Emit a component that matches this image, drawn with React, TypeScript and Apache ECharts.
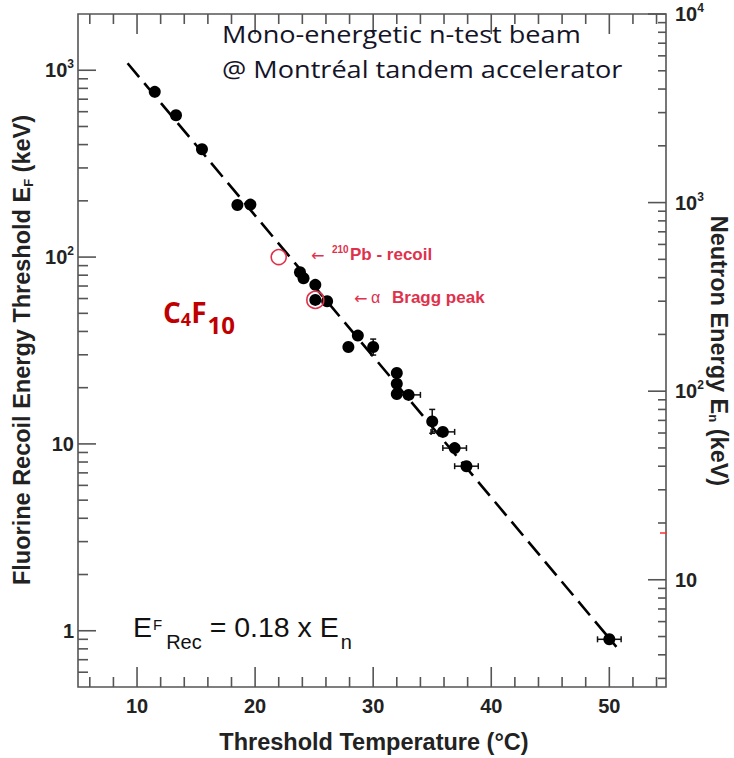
import React, { useEffect, useRef } from 'react';
import * as echarts from 'echarts';

// ---- data ----
const temps = [11.5, 13.3, 15.5, 18.5, 19.6, 23.8, 24.1, 25.1, 25.1, 26.1, 27.9, 28.7, 30.0, 32.0, 32.0, 32.0, 33.0, 35.0, 35.9, 36.9, 37.9, 50.0];
const energies = [766, 574, 378, 190, 191, 83, 77, 71, 59, 58, 33, 38, 33, 24, 21, 18.5, 18.3, 13.2, 11.6, 9.5, 7.6, 0.9];
const tempErr = [0, 0, 0, 0, 0, 0, 0, 0, 0, 0, 0, 0, 0, 0, 0, 0, 1.0, 0, 1.0, 1.0, 1.0, 1.0];
const energyErrDown = [0, 0, 0, 0, 0, 0, 0, 0, 0, 0, 0, 0, 3.1, 0, 0, 0, 0, 1.8, 0, 0, 0, 0];
const energyErrUp = [0, 0, 0, 0, 0, 0, 0, 0, 0, 0, 0, 0, 3.4, 0, 0, 0, 0, 2.1, 0, 0, 0, 0];

const fitTemps = [9.2, 50.6];
const fitEnergies = [1090, 0.82];

const pbRecoil = [[22.0, 100]];
const braggPeak = [[25.1, 59]];

const xMajorTicks = [10, 20, 30, 40, 50];
const xMinorTicks = [6, 8, 12, 14, 16, 18, 22, 24, 26, 28, 32, 34, 36, 38, 42, 44, 46, 48, 52, 54];
const leftMajorTicks = [1, 10, 100, 1000];
const rightMajorTicks = [10, 100, 1000, 10000];
const minorMantissas = [2, 3, 4, 5, 6, 7, 8, 9];
const decades = [0.1, 1, 10, 100, 1000];

const X_MIN = 5;
const X_MAX = 54.8;
const LEFT_MIN = 0.5;
const LEFT_MAX = 2000;
const RIGHT_MIN = 2.7;
const RIGHT_MAX = 10000;

const AXIS_COLOR = '#555';
const RED = '#e0314c';
const SANS = 'Liberation Sans, Arial, sans-serif';
const CAL = 'Open Sans, Noto Sans, sans-serif';

function minorsIn(lo: number, hi: number) {
  const out: number[] = [];
  decades.forEach((d) => minorMantissas.forEach((m) => {
    const v = Number((m * d).toPrecision(6));
    if (v > lo * 1.0001 && v < hi * 0.9999) out.push(v);
  }));
  return out;
}
const leftMinorTicks = minorsIn(LEFT_MIN, LEFT_MAX);
const rightMinorTicks = minorsIn(RIGHT_MIN, RIGHT_MAX);

const lineStyle = { stroke: AXIS_COLOR, lineWidth: 1.6 };

function xTickSeries(ticks: number[], len: number) {
  return {
    type: 'custom', silent: true, z: 5, xAxisIndex: 0, yAxisIndex: 0,
    data: ticks.map((v) => [v, 1]),
    renderItem: (params: any, api: any) => {
      const cs = params.coordSys;
      const px = api.coord([api.value(0), 1])[0];
      const bottom = cs.y + cs.height;
      return {
        type: 'group',
        children: [
          { type: 'line', shape: { x1: px, y1: bottom, x2: px, y2: bottom - len }, style: lineStyle },
          { type: 'line', shape: { x1: px, y1: cs.y, x2: px, y2: cs.y + len }, style: lineStyle },
        ],
      };
    },
  };
}

function yTickSeries(ticks: number[], len: number, right: boolean) {
  return {
    type: 'custom', silent: true, z: 5, xAxisIndex: 0, yAxisIndex: right ? 1 : 0,
    data: ticks.map((v) => [X_MIN + 1, v]),
    renderItem: (params: any, api: any) => {
      const cs = params.coordSys;
      const py = api.coord([X_MIN + 1, api.value(1)])[1];
      const x0 = right ? cs.x + cs.width : cs.x;
      const x1 = right ? x0 - len : x0 + len;
      return { type: 'line', shape: { x1: x0, y1: py, x2: x1, y2: py }, style: lineStyle };
    },
  };
}

function isPow10(v: number) {
  const e = Math.log10(v);
  return Math.abs(e - Math.round(e)) < 1e-6;
}
function powLabel(v: number) {
  if (!isPow10(v)) return '';
  const e = Math.round(Math.log10(v));
  if (e === 0) return '{b|1}';
  if (e === 1) return '{b|10}';
  return `{b|10}{s|${e}}`;
}
const labelRich = {
  b: { fontSize: 20, fontWeight: 'bold', color: '#222', fontFamily: SANS },
  s: { fontSize: 12, fontWeight: 'bold', color: '#222', fontFamily: SANS, padding: [0, 0, 12, 0] },
};

function txt(x: number, y: number, text: string, fontSize: number, extra: any = {}) {
  return {
    type: 'text', x, y, silent: true, z: 20,
    style: { text, fontSize, fontFamily: SANS, fill: '#111', align: 'left', verticalAlign: 'middle', ...extra },
  };
}

export default function App() {
  const ref = useRef<HTMLDivElement>(null);
  useEffect(() => {
    if (!ref.current) return;
    const chart = echarts.init(ref.current, null, { renderer: 'svg' });
    const pts = temps.map((t, i) => [t, energies[i]]);
    const errData = temps.map((t, i) => [t, energies[i], tempErr[i], energyErrDown[i], energyErrUp[i]]);
    const titleRich = {
      m: { fontSize: 23.5, fontWeight: 'bold', fontFamily: SANS, fill: '#222' },
      s: { fontSize: 13, fontWeight: 'bold', fontFamily: SANS, fill: '#222', padding: [12, 0, 0, 0] },
    };
    const option: any = {
      animation: false,
      backgroundColor: '#fff',
      grid: {
        left: 78, right: 68, top: 14, bottom: 71,
        show: true, borderColor: AXIS_COLOR, borderWidth: 1.6, backgroundColor: 'transparent',
        containLabel: false, outerBoundsMode: 'none',
      },
      xAxis: {
        type: 'value', min: X_MIN, max: X_MAX, interval: 5,
        axisLine: { show: false }, axisTick: { show: false }, splitLine: { show: false },
        axisLabel: {
          margin: 9, fontSize: 20, fontWeight: 'bold', color: '#222', fontFamily: SANS,
          formatter: (v: number) => (Math.abs(v % 10) < 1e-6 && v >= 10 && v <= 50 ? String(v) : ''),
        },
      },
      yAxis: [
        {
          type: 'log', logBase: 10, min: LEFT_MIN, max: LEFT_MAX, position: 'left',
          axisLine: { show: false }, axisTick: { show: false }, splitLine: { show: false }, minorTick: { show: false },
          axisLabel: { margin: 4, formatter: powLabel, rich: labelRich },
        },
        {
          type: 'log', logBase: 10, min: RIGHT_MIN, max: RIGHT_MAX, position: 'right',
          axisLine: { show: false }, axisTick: { show: false }, splitLine: { show: false }, minorTick: { show: false },
          axisLabel: { margin: 9, formatter: powLabel, rich: labelRich },
        },
      ],
      series: [
        xTickSeries(xMajorTicks, 20),
        xTickSeries(xMinorTicks, 10),
        yTickSeries(leftMajorTicks, 18, false),
        yTickSeries(leftMinorTicks, 10, false),
        yTickSeries(rightMajorTicks, 18, true),
        yTickSeries(rightMinorTicks, 8, true),
        {
          type: 'line', data: fitTemps.map((t, i) => [t, fitEnergies[i]]), showSymbol: false, silent: true, z: 3,
          lineStyle: { color: '#000', width: 2.6, type: [18, 8] },
        },
        {
          type: 'custom', silent: true, z: 4, data: errData,
          renderItem: (params: any, api: any) => {
            const t = api.value(0), e = api.value(1), dx = api.value(2), dn = api.value(3), up = api.value(4);
            const st = { stroke: '#111', lineWidth: 1.5 };
            const children: any[] = [];
            const cap = 3;
            if (dx > 0) {
              const a = api.coord([t - dx, e]);
              const b = api.coord([t + dx, e]);
              children.push({ type: 'line', shape: { x1: a[0], y1: a[1], x2: b[0], y2: b[1] }, style: st });
              children.push({ type: 'line', shape: { x1: a[0], y1: a[1] - cap, x2: a[0], y2: a[1] + cap }, style: st });
              children.push({ type: 'line', shape: { x1: b[0], y1: b[1] - cap, x2: b[0], y2: b[1] + cap }, style: st });
            }
            if (dn > 0 || up > 0) {
              const a = api.coord([t, e - dn]);
              const b = api.coord([t, e + up]);
              children.push({ type: 'line', shape: { x1: a[0], y1: a[1], x2: b[0], y2: b[1] }, style: st });
              children.push({ type: 'line', shape: { x1: a[0] - cap, y1: a[1], x2: a[0] + cap, y2: a[1] }, style: st });
              children.push({ type: 'line', shape: { x1: b[0] - cap, y1: b[1], x2: b[0] + cap, y2: b[1] }, style: st });
            }
            return { type: 'group', children };
          },
        },
        {
          type: 'scatter', data: pts, symbol: 'circle', symbolSize: 12, z: 6, silent: true,
          itemStyle: { color: '#000', opacity: 1 },
        },
        {
          type: 'scatter', data: pbRecoil, symbol: 'circle', symbolSize: 15, z: 7, silent: true,
          itemStyle: { color: 'rgba(0,0,0,0)', borderColor: RED, borderWidth: 1.6, opacity: 1 },
        },
        {
          type: 'scatter', data: braggPeak, symbol: 'circle', symbolSize: 17, z: 7, silent: true,
          itemStyle: { color: 'rgba(0,0,0,0)', borderColor: RED, borderWidth: 1.6, opacity: 1 },
        },
      ],
      graphic: [
        // axis titles
        txt(374, 742, 'Threshold Temperature (°C)', 23.5, { fontWeight: 'bold', align: 'center', fill: '#222' }),
        {
          type: 'text', x: 22, y: 350, rotation: Math.PI / 2, silent: true, z: 20,
          style: {
            text: '{m|Fluorine Recoil Energy Threshold E}{s|F}{m| (keV)}', align: 'center', verticalAlign: 'middle',
            rich: titleRich,
          },
        },
        {
          type: 'text', x: 719, y: 351, rotation: -Math.PI / 2, silent: true, z: 20,
          style: {
            text: '{m|Neutron Energy E}{s|n}{m| (keV)}', align: 'center', verticalAlign: 'middle',
            rich: titleRich,
          },
        },
        // title
        { ...txt(222, 34, 'Mono-energetic n-test beam', 24, { fontFamily: CAL, fill: '#141428' }), scaleX: 1.13 },
        { ...txt(222, 69, '@ Montréal tandem accelerator', 24, { fontFamily: CAL, fill: '#141428' }), scaleX: 1.13 },
        // C4F10
        {
          type: 'text', x: 163, y: 312, silent: true, z: 20,
          style: {
            text: '{b|C}{s|4}{b|F}{t|10}', align: 'left', verticalAlign: 'middle',
            rich: {
              b: { fontSize: 28, fontWeight: 'bold', fontFamily: CAL, fill: '#c00000' },
              s: { fontSize: 18, fontWeight: 'bold', fontFamily: CAL, fill: '#c00000', padding: [14, 0, 0, 0] },
              t: { fontSize: 24, fontWeight: 'bold', fontFamily: CAL, fill: '#c00000', padding: [24, 0, 0, 1] },
            },
          },
        },
        // formula
        {
          type: 'text', x: 133, y: 626.5, silent: true, z: 20,
          style: {
            text: '{m|E}{sup|F}{sub|Rec}{m| = 0.18 x E}{sub2|n}', align: 'left', verticalAlign: 'middle',
            rich: {
              m: { fontSize: 28.5, fontFamily: SANS, fill: '#111' },
              sup: { fontSize: 15, fontFamily: SANS, fill: '#111', padding: [0, 0, 4, 1] },
              sub: { fontSize: 20, fontFamily: SANS, fill: '#111', padding: [30, 0, 0, 4] },
              sub2: { fontSize: 20, fontFamily: SANS, fill: '#111', padding: [30, 0, 0, 2] },
            },
          },
        },
        // annotations
        txt(311, 255, '←', 16, { fontFamily: 'DejaVu Sans', fill: RED }),
        txt(332, 249, '210', 10, { fontWeight: 'bold', fill: RED }),
        txt(350, 254.5, 'Pb - recoil', 17, { fontWeight: 'bold', fill: RED }),
        txt(354, 298, '←', 16, { fontFamily: 'DejaVu Sans', fill: RED }),
        txt(371, 297.5, 'α', 16, { fill: RED }),
        txt(392, 297.5, 'Bragg peak', 17, { fontWeight: 'bold', fill: RED }),
        // small red mark on the right axis
        { type: 'line', silent: true, z: 20, shape: { x1: 660, y1: 533, x2: 667, y2: 533 }, style: { stroke: '#ff3030', lineWidth: 1.5 } },
      ],
    };
    chart.setOption(option);
    return () => chart.dispose();
  }, []);
  return <div ref={ref} style={{ position: 'fixed', left: 0, top: 0, width: 734, height: 758, background: '#fff' }} />;
}
